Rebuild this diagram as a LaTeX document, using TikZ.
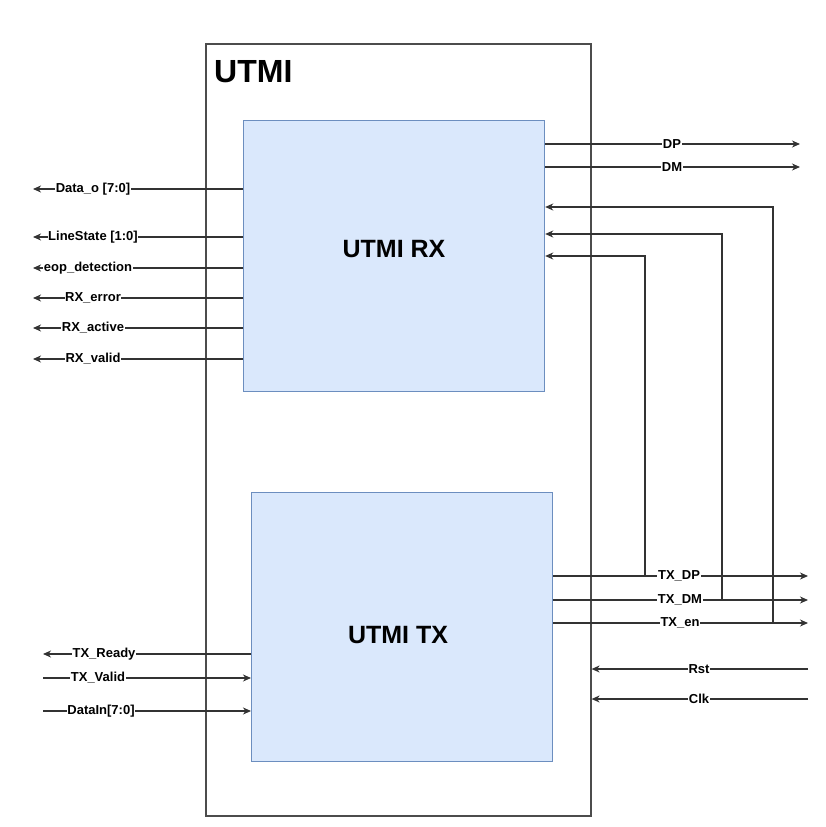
\documentclass[tikz,border=0pt]{standalone}
\usepackage{fontspec}
\setmainfont{Liberation Sans}
\usetikzlibrary{arrows.meta}
\definecolor{blkfill}{HTML}{DAE8FC}
\definecolor{blkborder}{HTML}{6C8EBF}
\begin{document}
\begin{tikzpicture}[x=1pt,y=-1pt,
 outerbox/.style={draw=black!70, line width=1.6pt, fill=white, inner sep=0pt, anchor=north west, minimum width=385pt, minimum height=772pt},
 blk/.style={draw=blkborder, fill=blkfill, line width=1.2pt, inner sep=0pt, anchor=north west},
 sig/.style={draw=black!80, line width=1.2pt},
 arr/.style={sig, -{Stealth[length=8pt,width=7pt,inset=2.5pt]}},
 lbl/.style={fill=white, inner sep=0.6pt, font=\bfseries\fontsize{13}{13}\selectfont},
 ]
\path[use as bounding box] (0,0) rectangle (825,827);

% blocks
\node[outerbox] (utmi) at (205,43) {};
\node[anchor=base west, font=\bfseries\fontsize{32}{32}\selectfont, inner sep=0pt] (title) at (214,82) {UTMI};
\node[blk, minimum width=301pt, minimum height=271pt] (rx) at (243,120) {};
\node[font=\bfseries\fontsize{25}{25}\selectfont, inner sep=0pt] (rxlbl) at (394,249) {UTMI RX};
\node[blk, minimum width=301pt, minimum height=269pt] (tx) at (251,492) {};
\node[font=\bfseries\fontsize{25}{25}\selectfont, inner sep=0pt] (txlbl) at (398,635) {UTMI TX};

% left RX outputs
\coordinate (dataoE) at (33,189);
\coordinate (lineE) at (33,237);
\coordinate (eopE) at (33,268);
\coordinate (errE) at (33,298);
\coordinate (actE) at (33,328);
\coordinate (valE) at (33,359);
\draw[arr] (rx.west |- dataoE) -- (dataoE);
\draw[arr] (rx.west |- lineE) -- (lineE);
\draw[arr] (rx.west |- eopE) -- (eopE);
\draw[arr] (rx.west |- errE) -- (errE);
\draw[arr] (rx.west |- actE) -- (actE);
\draw[arr] (rx.west |- valE) -- (valE);
\node[lbl] (ldatao) at (93,189) {Data\_o [7:0]};
\node[lbl] (lline) at (93,237) {LineState [1:0]};
\node[lbl] (leop) at (88,268) {eop\_detection};
\node[lbl] (lerr) at (93,298) {RX\_error};
\node[lbl] (lact) at (93,328) {RX\_active};
\node[lbl] (lval) at (93,359) {RX\_valid};

% right RX outputs
\coordinate (dpE) at (800,144);
\coordinate (dmE) at (800,167);
\draw[arr] (rx.east |- dpE) -- (dpE);
\draw[arr] (rx.east |- dmE) -- (dmE);
\node[lbl] (ldp) at (672,144) {DP};
\node[lbl] (ldm) at (672,167) {DM};

% TX outputs
\coordinate (txdpE) at (808,576);
\coordinate (txdmE) at (808,600);
\coordinate (txenE) at (808,623);
\draw[arr] (tx.east |- txdpE) -- (txdpE);
\draw[arr] (tx.east |- txdmE) -- (txdmE);
\draw[arr] (tx.east |- txenE) -- (txenE);

% loop-backs into RX
\coordinate (lb1) at (645,576);
\coordinate (lb2) at (722,600);
\coordinate (lb3) at (773,623);
\draw[arr] (lb1) -- (lb1 |- 0,256) -- (rx.east |- 0,256);
\draw[arr] (lb2) -- (lb2 |- 0,234) -- (rx.east |- 0,234);
\draw[arr] (lb3) -- (lb3 |- 0,207) -- (rx.east |- 0,207);

\node[lbl] (ltxdp) at (679,576) {TX\_DP};
\node[lbl] (ltxdm) at (680,600) {TX\_DM};
\node[lbl] (ltxen) at (680,623) {TX\_en};

% Rst, Clk
\coordinate (rstS) at (808,669);
\coordinate (clkS) at (808,699);
\draw[arr] (rstS) -- (utmi.east |- rstS);
\draw[arr] (clkS) -- (utmi.east |- clkS);
\node[lbl] (lrst) at (699,669) {Rst};
\node[lbl] (lclk) at (699,699) {Clk};

% left TX
\coordinate (rdyE) at (43,654);
\coordinate (tvS) at (43,678);
\coordinate (dinS) at (43,711);
\draw[arr] (tx.west |- rdyE) -- (rdyE);
\draw[arr] (tvS) -- (tx.west |- tvS);
\draw[arr] (dinS) -- (tx.west |- dinS);
\node[lbl] (lrdy) at (104,654) {TX\_Ready};
\node[lbl] (ltv) at (98,678) {TX\_Valid};
\node[lbl] (ldin) at (101,711) {DataIn[7:0]};
\end{tikzpicture}
\end{document}
